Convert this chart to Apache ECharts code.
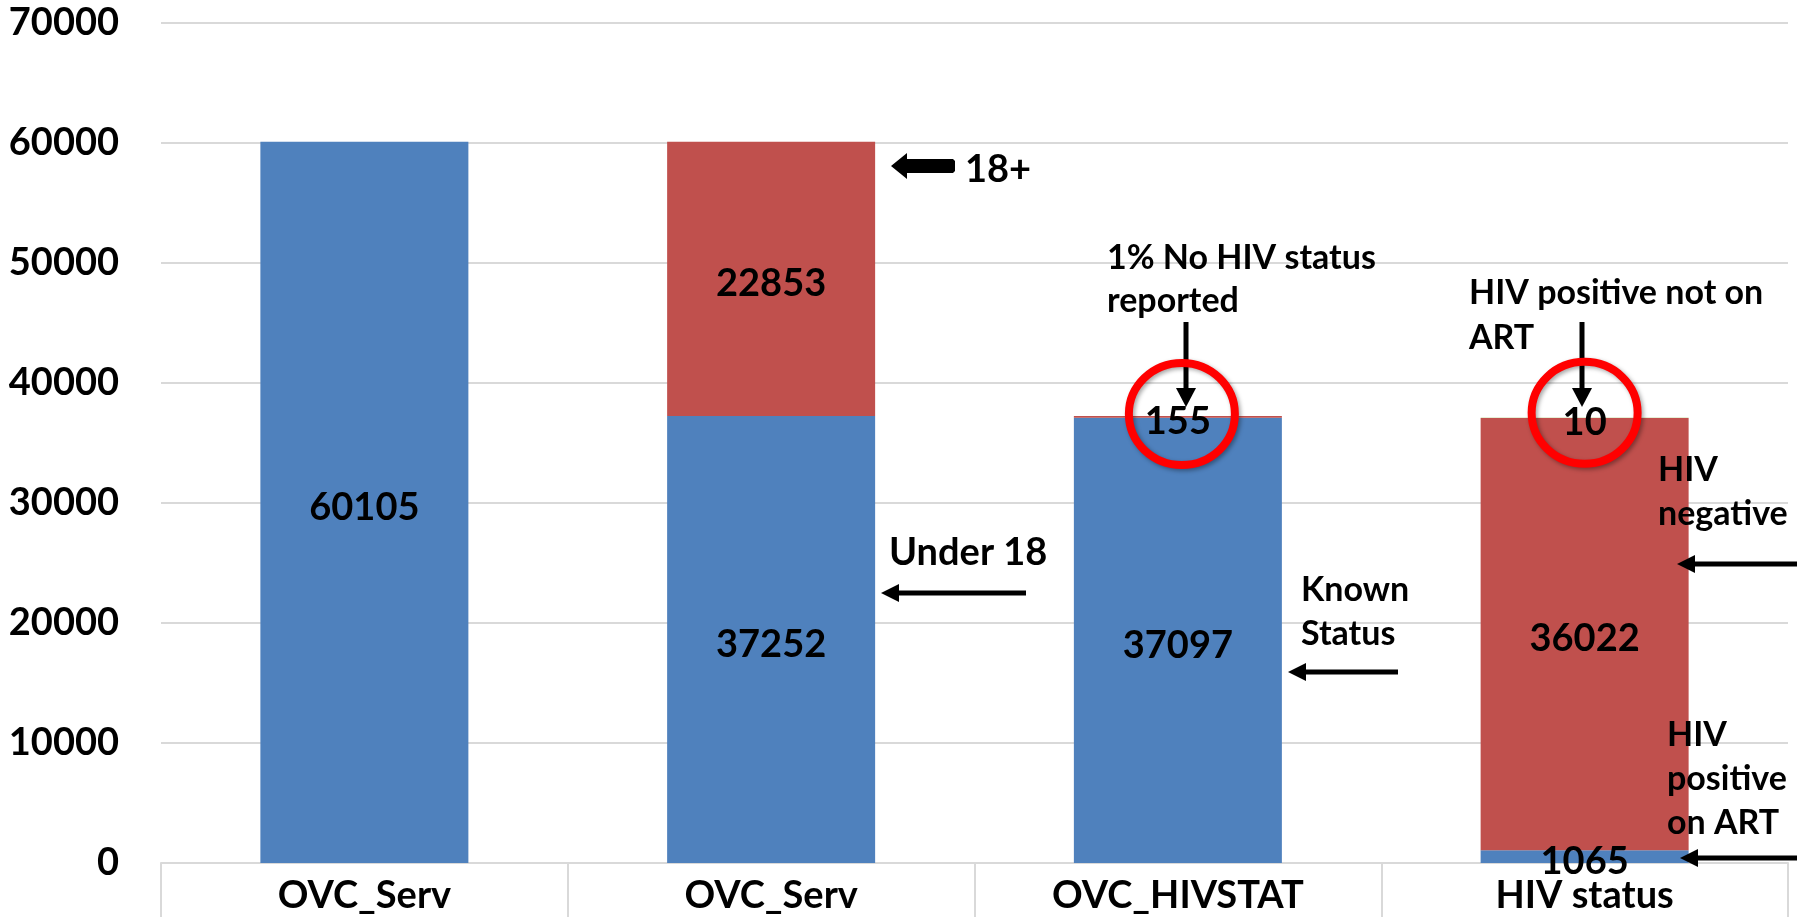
<!DOCTYPE html>
<html>
<head>
<meta charset="utf-8">
<script src="https://cdn.jsdelivr.net/npm/echarts@6/dist/echarts.min.js"></script>
<style>
  html, body { margin: 0; padding: 0; background: #fff; }
  #chart { width: 1797px; height: 917px; }
</style>
</head>
<body>
<div id="chart"></div>
<script>
// values
const categories = ['OVC_Serv', 'OVC_Serv', 'OVC_HIVSTAT', 'HIV status'];
const blueValues = [60105, 37252, 37097, 1065];   // total / under 18 / known status / on ART
const redValues = [null, 22853, 155, 36022];      // 18+ / no status / negative
const greenValues = [null, null, null, 10];       // positive not on ART
const yMin = 0, yMax = 70000, yStep = 10000;

const FONT = 'Lato';
const GRID_GRAY = '#d9d9d9';

const chart = echarts.init(document.getElementById('chart'), null, { renderer: 'canvas' });

const labelStyle = {
  show: true,
  position: 'inside',
  offset: [0, 5],
  color: '#000',
  fontFamily: FONT,
  fontWeight: 'bold',
  fontSize: 38,
  textBorderWidth: 0
};

function barSeries(name, data, color) {
  return {
    name, type: 'bar', stack: 'total', data,
    barWidth: 208,
    itemStyle: { color },
    label: labelStyle,
    emphasis: { disabled: true }
  };
}

chart.setOption({
  backgroundColor: '#fff',
  animation: false,
  grid: { left: 161, right: 9, top: 23, bottom: 54, containLabel: false, outerBoundsMode: 'none' },
  xAxis: {
    type: 'category',
    data: categories,
    axisLine: { lineStyle: { color: GRID_GRAY, width: 2 } },
    axisTick: { show: true, length: 56, lineStyle: { color: GRID_GRAY, width: 2 } },
    axisLabel: { color: '#000', fontFamily: FONT, fontWeight: 'bold', fontSize: 38, margin: 14 }
  },
  yAxis: {
    type: 'value',
    min: yMin, max: yMax, interval: yStep,
    axisLine: { show: false },
    axisTick: { show: false },
    splitLine: { lineStyle: { color: GRID_GRAY, width: 2 } },
    axisLabel: {
      color: '#000', fontFamily: FONT, fontWeight: 'bold', fontSize: 38, margin: 42,
      formatter: (v) => String(v)
    }
  },
  series: [
    barSeries('base', blueValues, '#4F81BD'),
    barSeries('second', redValues, '#C0504D'),
    barSeries('third', greenValues, '#9BBB59')
  ]
});

// annotation helpers
function note(text, x, y, size, lh) {
  return {
    type: 'text', z: 100,
    style: {
      text, x, y: y - lh / 2, fill: '#000',
      fontFamily: FONT, fontWeight: 'bold', fontSize: size,
      lineHeight: lh, align: 'left', verticalAlign: 'top'
    }
  };
}
function hArrow(tipX, y, tailX) {
  return {
    type: 'group', z: 100, children: [
      { type: 'line', z: 100, shape: { x1: tipX + 14, y1: y, x2: tailX, y2: y }, style: { stroke: '#000', lineWidth: 5 } },
      { type: 'polygon', z: 100, shape: { points: [[tipX, y], [tipX + 18, y - 9], [tipX + 18, y + 9]] }, style: { fill: '#000' } }
    ]
  };
}
function vArrow(x, tailY, tipY) {
  return {
    type: 'group', z: 100, children: [
      { type: 'line', z: 100, shape: { x1: x, y1: tailY, x2: x, y2: tipY - 14 }, style: { stroke: '#000', lineWidth: 5 } },
      { type: 'polygon', z: 100, shape: { points: [[x, tipY], [x - 10, tipY - 19], [x + 10, tipY - 19]] }, style: { fill: '#000' } }
    ]
  };
}
function ring(cx, cy) {
  return {
    type: 'ellipse', z: 101,
    shape: { cx, cy, rx: 53, ry: 51 },
    style: { fill: 'none', stroke: '#ff0000', lineWidth: 8, shadowBlur: 4, shadowOffsetX: 2, shadowOffsetY: 2, shadowColor: 'rgba(0,0,0,0.35)' }
  };
}

// rings anchored on the stack tops of the two small segments
const top3 = chart.convertToPixel({ gridIndex: 0 }, [2, blueValues[2] + redValues[2]]);
const top4 = chart.convertToPixel({ gridIndex: 0 }, [3, blueValues[3] + redValues[3] + greenValues[3]]);

chart.setOption({
  graphic: [
    // 18+ block arrow
    { type: 'polygon', z: 100, shape: { points: [[891, 166], [907, 153], [907, 159], [953, 159], [955, 161], [955, 171], [953, 173], [907, 173], [907, 179]] }, style: { fill: '#000' } },
    note('18+', 965, 170, 38, 44),
    note('Under 18', 889, 553, 38, 44),
    hArrow(881, 593, 1026),
    note('1% No HIV status\nreported', 1107, 258, 34, 43),
    vArrow(1186, 322, 407),
    ring(top3[0] + 4, top3[1] - 2),
    note('Known\nStatus', 1301, 590, 34, 44),
    hArrow(1288, 672, 1398),
    note('HIV positive not on\nART', 1469, 293, 34, 45),
    vArrow(1582, 322, 407),
    ring(top4[0], top4[1] - 5),
    note('HIV\nnegative', 1658, 470, 34, 44),
    hArrow(1677, 564, 1797),
    note('HIV\npositive\non ART', 1667, 735, 34, 44),
    hArrow(1680, 858, 1797)
  ]
});
</script>
</body>
</html>
